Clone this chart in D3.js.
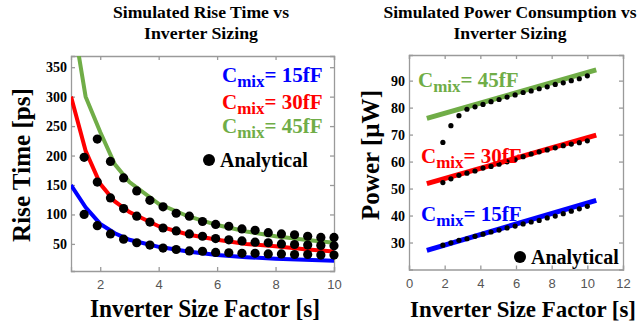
<!DOCTYPE html>
<html>
<head>
<meta charset="utf-8">
<script src="https://cdn.jsdelivr.net/npm/d3@7"></script>
<style>
  body { margin: 0; background: #fff; }
  text { font-family: "Liberation Serif", "Times New Roman", serif; }
</style>
</head>
<body>
<svg id="chart" width="642" height="324"></svg>
<script>
// ---- rise time panel ----
const riseSimS = [1, 1.5, 2, 2.5, 3, 4, 5, 6, 7, 8, 9, 10];
const riseSim15 = [150, 112, 84, 68, 57, 45, 37, 31, 27.5, 25, 23, 21.5];
const riseSim30 = [300, 208, 152, 122, 104, 80, 66, 57, 50, 46, 41, 37];
const riseSim45 = [450, 300, 240, 185, 155, 118, 97, 82, 71, 63, 57, 52];

const riseDotS = [1.45, 1.9, 2.35, 2.8, 3.25, 3.7, 4.15, 4.6, 5.05, 5.5,
                  5.95, 6.4, 6.85, 7.3, 7.75, 8.2, 8.65, 9.1, 9.55, 10];
const riseDot15 = [100, 81, 67, 58, 52, 48, 43, 40.5, 38, 37.5, 35.5, 35, 34, 34, 33, 33, 32, 32, 31, 31];
const riseDot30 = [197, 155, 128, 110, 97, 87, 77, 72, 67, 63, 59, 57, 55, 53, 52, 50, 49, 48, 47.5, 47];
const riseDot45 = [null, 228, 190, 162, 140, 124, 113, 102, 97, 88, 83, 80, 75.5, 73, 69, 67, 65.5, 63, 61, 61];

const riseXTicks = [2, 4, 6, 8, 10];
const riseYTicks = [50, 100, 150, 200, 250, 300, 350];

// ---- power panel ----
const powSimS = [1, 10.5];
const powSim15 = [27.1, 45.6];
const powSim30 = [51.8, 69.8];
const powSim45 = [76, 94];

const powDotS = [1.9, 2.35, 2.8, 3.25, 3.7, 4.15, 4.6, 5.05, 5.5, 5.95,
                 6.4, 6.85, 7.3, 7.75, 8.2, 8.65, 9.1, 9.55, 10];
const powDot15 = [29, 29.9, 30.8, 31.4, 32.3, 33.1, 33.9, 34.6, 35.4, 36.1, 36.9, 37.6, 38.2, 39.1, 39.8, 40.7, 41.6, 42.5, 43.4];
const powDot30 = [52.2, 53.6, 54.9, 55.7, 56.5, 57.6, 58.2, 59, 59.9, 60.8, 61.8, 62.8, 63.6, 64.3, 65.1, 65.9, 66.5, 67, 67.7];
const powDot45 = [67.1, 73.3, 77, 79.4, 80.3, 81.2, 82.2, 83, 83.9, 84.7, 85.6, 86.2, 87, 87.7, 88.6, 89.2, 90, 90.7, 91.8];

const powXTicks = [0, 2, 4, 6, 8, 10, 12];
const powYTicks = [30, 40, 50, 60, 70, 80, 90];

const blue = '#0000ff', red = '#ff0000', green = '#70ad47';
const axisGrey = '#9a9a9a';

const svg = d3.select('#chart');

// bold serif text squeezed to the width measured on the reference
function label(g, txt, size, len) {
    return g.append('text')
        .attr('text-anchor', 'middle')
        .attr('textLength', len)
        .attr('lengthAdjust', 'spacingAndGlyphs')
        .style('font-weight', 'bold').style('font-size', size)
        .text(txt);
}

function drawPanel(cfg) {
    const x = d3.scaleLinear().domain(cfg.xDomain).range(cfg.xRange);
    const y = d3.scaleLinear().domain(cfg.yDomain).range(cfg.yRange);
    const g = svg.append('g');

    g.append('clipPath').attr('id', cfg.id + '-clip')
        .append('rect')
        .attr('x', cfg.xRange[0]).attr('y', cfg.yRange[1])
        .attr('width', cfg.xRange[1] - cfg.xRange[0])
        .attr('height', cfg.yRange[0] - cfg.yRange[1]);

    // axes, ticks pointing inwards
    const bottom = g.append('g')
        .attr('transform', `translate(0,${cfg.yRange[0]})`)
        .call(d3.axisBottom(x).tickValues(cfg.xTicks).tickSize(-4).tickPadding(9));
    bottom.selectAll('text')
        .style('font-family', '"Liberation Sans", Arial, sans-serif')
        .style('font-size', '13px').attr('fill', '#555');

    const left = g.append('g')
        .attr('transform', `translate(${cfg.xRange[0]},0)`)
        .call(d3.axisLeft(y).tickValues(cfg.yTicks).tickSize(-4).tickPadding(4));
    left.selectAll('text')
        .style('font-family', '"Liberation Serif", serif')
        .style('font-weight', 'bold').style('font-size', cfg.yTickSize)
        .attr('fill', '#000');

    g.append('g')
        .attr('transform', `translate(0,${cfg.yRange[1]})`)
        .call(d3.axisTop(x).tickValues(cfg.xTicks).tickSize(-4).tickFormat(''));
    g.append('g')
        .attr('transform', `translate(${cfg.xRange[1]},0)`)
        .call(d3.axisRight(y).tickValues(cfg.yTicks).tickSize(-4).tickFormat(''));

    g.selectAll('.domain, .tick line').attr('stroke', axisGrey).attr('stroke-width', 1.3);

    // simulated lines
    const line = d3.line()
        .x((d) => x(d[0]))
        .y((d) => y(d[1]));
    const lines = g.append('g').attr('clip-path', `url(#${cfg.id}-clip)`);
    cfg.sims.forEach((s) => {
        lines.append('path')
            .datum(cfg.simS.map((v, i) => [v, s.values[i]]))
            .attr('fill', 'none')
            .attr('stroke', s.color)
            .attr('stroke-width', cfg.lineWidth)
            .attr('d', line);
    });

    // analytical dots
    cfg.dots.forEach((vals) => {
        g.append('g').selectAll('circle')
            .data(cfg.dotS.map((v, i) => [v, vals[i]]).filter((d) => d[1] != null))
            .join('circle')
            .attr('cx', (d) => x(d[0]))
            .attr('cy', (d) => y(d[1]))
            .attr('r', cfg.dotR)
            .attr('fill', '#000');
    });

    // titles and labels
    cfg.title.forEach((t, i) => {
        label(g, t.text, '17px', t.len)
            .attr('x', cfg.titleX).attr('y', 18 + i * 21);
    });
    label(g, 'Inverter Size Factor [s]', cfg.xLabelSize, cfg.xLabelLen)
        .attr('x', cfg.xLabelX).attr('y', 317);
    label(g, cfg.yLabel, '26px', cfg.yLabelLen)
        .attr('transform', `translate(${cfg.yLabelX},${cfg.yLabelY}) rotate(-90)`);

    // legend labels
    cfg.legend.forEach((l) => {
        const t = g.append('text')
            .attr('x', l.x).attr('y', l.y)
            .attr('fill', l.color)
            .style('font-weight', 'bold').style('font-size', '21px');
        t.append('tspan').text('C');
        t.append('tspan').attr('dy', 5).style('font-size', '17px').text('mix');
        t.append('tspan').attr('dy', -5).text('= ' + l.cap);
    });
    g.append('circle')
        .attr('cx', cfg.anaX).attr('cy', cfg.anaY - 7).attr('r', 6).attr('fill', '#000');
    g.append('text')
        .attr('x', cfg.anaX + 11).attr('y', cfg.anaY)
        .style('font-weight', 'bold').style('font-size', '20px')
        .text('Analytical');
}

drawPanel({
    id: 'rise',
    xDomain: [1, 10], xRange: [71, 334],
    yDomain: [4, 369], yRange: [271, 56],
    xTicks: riseXTicks, yTicks: riseYTicks, yTickSize: '14px',
    simS: riseSimS,
    sims: [
        {values: riseSim15, color: blue},
        {values: riseSim30, color: red},
        {values: riseSim45, color: green}
    ],
    dotS: riseDotS, dots: [riseDot15, riseDot30, riseDot45],
    lineWidth: 4, dotR: 4.6,
    title: [{text: 'Simulated Rise Time vs', len: 176}, {text: 'Inverter Sizing', len: 114}],
    titleX: 201,
    xLabelX: 205, xLabelLen: 230, xLabelSize: '26px',
    yLabelX: 30, yLabelY: 165, yLabelLen: 154, yLabel: 'Rise Time [ps]',
    legend: [
        {x: 222, y: 82, color: blue, cap: '15fF'},
        {x: 222, y: 109, color: red, cap: '30fF'},
        {x: 222, y: 133, color: green, cap: '45fF'}
    ],
    anaX: 209, anaY: 167
});

drawPanel({
    id: 'pow',
    xDomain: [0, 12], xRange: [409, 623],
    yDomain: [20, 99.5], yRange: [269.5, 55],
    xTicks: powXTicks, yTicks: powYTicks, yTickSize: '14px',
    simS: powSimS,
    sims: [
        {values: powSim15, color: blue},
        {values: powSim30, color: red},
        {values: powSim45, color: green}
    ],
    dotS: powDotS, dots: [powDot15, powDot30, powDot45],
    lineWidth: 5, dotR: 2.6,
    title: [{text: 'Simulated Power Consumption vs', len: 253}, {text: 'Inverter Sizing', len: 113}],
    titleX: 510,
    xLabelX: 523, xLabelLen: 226, xLabelSize: '23px',
    yLabelX: 379, yLabelY: 155, yLabelLen: 130, yLabel: 'Power [\u03bcW]',
    legend: [
        {x: 418, y: 87, color: green, cap: '45fF'},
        {x: 421, y: 163, color: red, cap: '30fF'},
        {x: 421, y: 221, color: blue, cap: '15fF'}
    ],
    anaX: 520, anaY: 264
});
</script>
</body>
</html>
